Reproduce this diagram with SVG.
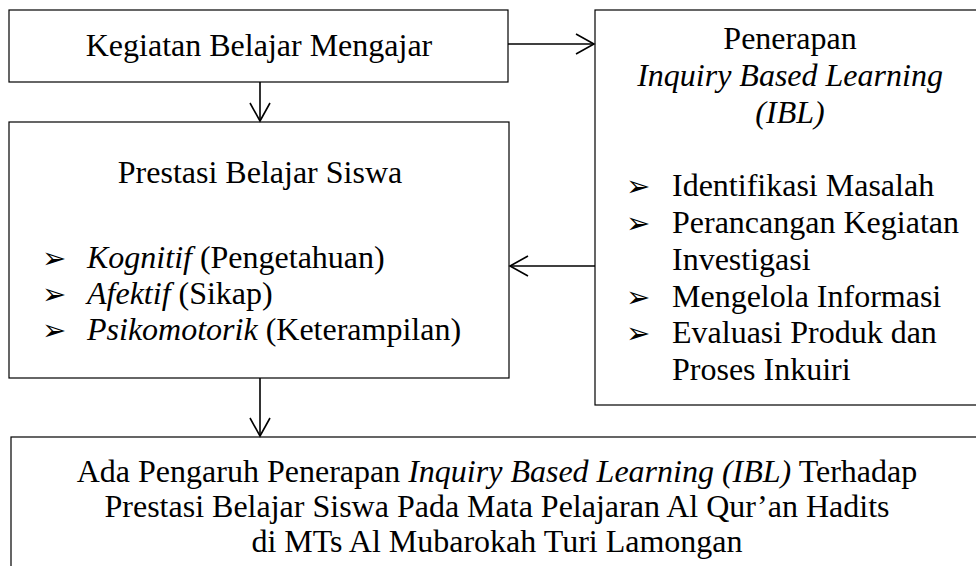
<svg xmlns="http://www.w3.org/2000/svg" width="976" height="566" viewBox="0 0 976 566">
<defs>
<style>
.box{fill:#fff;stroke:#000;stroke-width:1.2}
.t{font-family:"Liberation Serif","Times New Roman",serif;font-size:32px;fill:#000}
.c{text-anchor:middle}
.b{font-family:"DejaVu Sans",sans-serif;font-size:29px;fill:#000}
.conn{stroke:#000;stroke-width:1.6;fill:none}
</style>
<marker id="ah" viewBox="-20 -12 22 24" markerWidth="22" markerHeight="24" refX="0" refY="0" orient="auto" markerUnits="userSpaceOnUse">
<polyline points="-18,-10 0,0 -18,10" fill="none" stroke="#000" stroke-width="1.6"/>
</marker>
</defs>
<rect width="976" height="566" fill="#fff"/>
<g id="node-kegiatan">
<rect class="box" x="9" y="10" width="499" height="72"/>
<text class="t c" x="259" y="56">Kegiatan Belajar Mengajar</text>
</g>
<g id="node-prestasi">
<rect class="box" x="9" y="122" width="500" height="256"/>
<text class="t c" x="260" y="183">Prestasi Belajar Siswa</text>
<text class="b" x="42" y="268">➢</text>
<text class="b" x="42" y="304">➢</text>
<text class="b" x="42" y="340">➢</text>
<text class="t" x="87" y="268"><tspan font-style="italic">Kognitif</tspan> (Pengetahuan)</text>
<text class="t" x="87" y="304"><tspan font-style="italic">Afektif</tspan> (Sikap)</text>
<text class="t" x="87" y="340"><tspan font-style="italic">Psikomotorik</tspan> (Keterampilan)</text>
</g>
<g id="node-penerapan">
<rect class="box" x="595" y="10" width="400" height="395"/>
<text class="t c" x="790" y="49">Penerapan</text>
<text class="t c" x="790" y="86" font-style="italic">Inquiry Based Learning</text>
<text class="t c" x="790" y="122.6" font-style="italic">(IBL)</text>
<text class="b" x="626" y="196.2">➢</text>
<text class="b" x="626" y="233">➢</text>
<text class="b" x="626" y="306.6">➢</text>
<text class="b" x="626" y="343.4">➢</text>
<text class="t" x="672" y="196.2">Identifikasi Masalah</text>
<text class="t" x="672" y="233">Perancangan Kegiatan</text>
<text class="t" x="672" y="269.8">Investigasi</text>
<text class="t" x="672" y="306.6">Mengelola Informasi</text>
<text class="t" x="672" y="343.4">Evaluasi Produk dan</text>
<text class="t" x="672" y="380.2">Proses Inkuiri</text>
</g>
<g id="node-pengaruh">
<rect class="box" x="11" y="437" width="1000" height="200"/>
<text class="t c" x="497" y="482">Ada Pengaruh Penerapan <tspan font-style="italic">Inquiry Based Learning (IBL)</tspan> Terhadap</text>
<text class="t c" x="497" y="517">Prestasi Belajar Siswa Pada Mata Pelajaran Al Qur’an Hadits</text>
<text class="t c" x="497" y="552">di MTs Al Mubarokah Turi Lamongan</text>
</g>
<g id="connectors">
<line class="conn" x1="508" y1="44" x2="594" y2="44" marker-end="url(#ah)"/>
<line class="conn" x1="260" y1="82" x2="260" y2="121" marker-end="url(#ah)"/>
<line class="conn" x1="595" y1="266" x2="510" y2="266" marker-end="url(#ah)"/>
<line class="conn" x1="260" y1="378" x2="260" y2="436" marker-end="url(#ah)"/>
</g>
</svg>
